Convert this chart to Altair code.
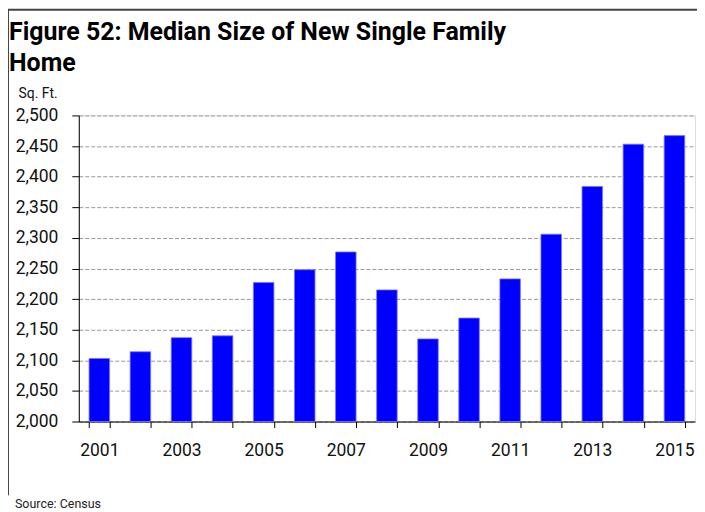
import altair as alt
import pandas as pd

years = [str(y) for y in range(2001, 2016)]
sizes = [2103, 2114, 2137, 2140, 2227, 2248, 2277, 2215, 2135, 2169, 2233, 2306, 2384, 2453, 2467]
y_ticks = list(range(2000, 2501, 50))
title_lines = ["Figure 52: Median Size of New Single Family", "Home"]
y_title = "Sq. Ft."
source_note = ["Source: Census"]

FONT = "Roboto"

df = pd.DataFrame({"year": years, "size": sizes})

W, H = 618, 307
PL, PT, PR, PB = 71, 107, 2, 89

bars = alt.Chart(df).mark_bar(color="#0000FF", stroke="#7777FF", strokeWidth=0.8).encode(
    x=alt.X("year:N", sort=years,
            scale=alt.Scale(paddingInner=0.5, paddingOuter=0.25),
            axis=alt.Axis(title=None, labelAngle=0, tickBand="extent",
                          labelExpr="toNumber(datum.value) % 2 == 1 ? datum.value : ''",
                          labelFont=FONT, labelFontSize=17.5, labelColor="#111",
                          labelPadding=14, tickSize=6, tickColor="#000",
                          domainColor="#000", grid=False)),
    y=alt.Y("size:Q", scale=alt.Scale(domain=[2000, 2500], zero=False, nice=False),
            axis=alt.Axis(values=y_ticks, format=",.0f", title=y_title, titleAngle=0,
                          titleX=-61, titleY=-18, titleAlign="left", titleBaseline="alphabetic",
                          titleFont=FONT, titleFontSize=14, titleFontWeight="normal", titleColor="#111",
                          labelFont=FONT, labelFontSize=17.5, labelColor="#111", labelPadding=14,
                          tickSize=7, tickColor="#000", domainColor="#000",
                          grid=True, gridColor="#999", gridDash=[4, 2], gridWidth=1)),
    y2=alt.datum(2000),
)

src = pd.DataFrame({"note": source_note})
source = alt.Chart(src).mark_text(font=FONT, fontSize=12.5, align="left", baseline="alphabetic",
                                   color="#222").encode(
    text="note:N", x=alt.value(-64), y=alt.value(H + 87))

title = alt.Chart(src).mark_text(text=title_lines, font=FONT, fontSize=25, fontWeight="bold",
                                  align="left", baseline="alphabetic", lineHeight=31,
                                  color="#000").encode(
    x=alt.value(-PL + 1), y=alt.value(-76))

frame_top = alt.Chart(src).mark_rule(color="#444", strokeWidth=2).encode(
    x=alt.value(-PL), x2=alt.value(W + PR), y=alt.value(-PT + 1))
frame_left = alt.Chart(src).mark_rule(color="#444", strokeWidth=1).encode(
    x=alt.value(-PL + 0.5), y=alt.value(-PT + 1), y2=alt.value(H + 74))

chart = alt.layer(bars, title, source, frame_top, frame_left).properties(
    width=W, height=H,
    autosize=alt.AutoSizeParams(type="none"),
    padding={"left": PL, "top": PT, "right": PR, "bottom": PB},
).configure_view(stroke=None).configure(background="white")

chart.save("out.html", embed_options={"renderer": "svg", "actions": False})
